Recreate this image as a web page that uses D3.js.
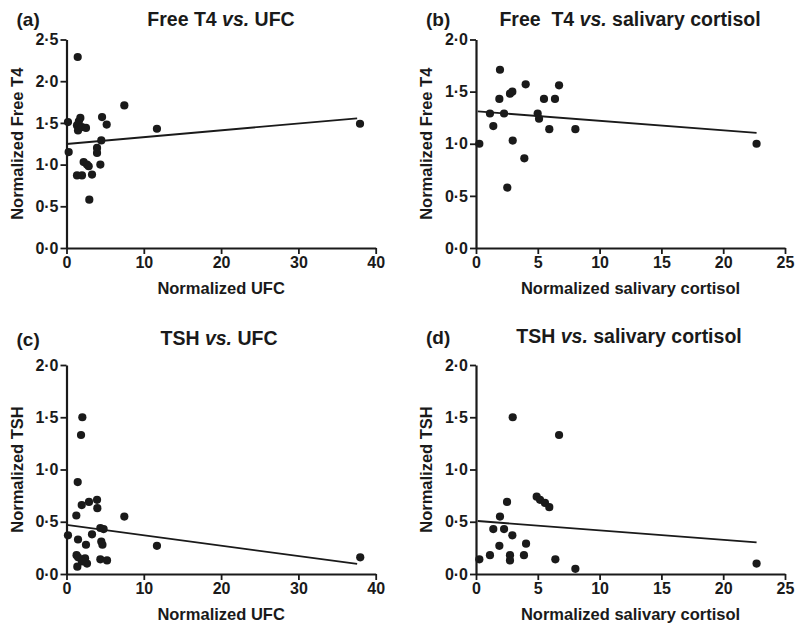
<!DOCTYPE html>
<html><head><meta charset="utf-8">
<script src="https://cdn.jsdelivr.net/npm/d3@7"></script>
<style>
body{margin:0;background:#fff;}
svg{display:block;font-family:"Liberation Sans",Arial,sans-serif;}
</style></head>
<body><svg id="c" width="796" height="629"></svg>
<script>
// Panel (a): Free T4 vs UFC
const aUFC = [0.19,0.28,1.45,1.36,1.49,1.79,1.6,2.0,2.52,4.6,5.2,7.48,11.7,37.97,4.5,3.95,3.95,4.38,2.22,2.65,2.87,1.36,2.0,3.3,2.95];
const aFT4 = [1.51,1.15,2.29,1.47,1.41,1.56,1.52,1.45,1.44,1.57,1.48,1.71,1.43,1.49,1.29,1.20,1.14,1.00,1.03,1.00,0.98,0.87,0.87,0.88,0.58];
const aFit = [[0.0,1.247],[37.6,1.555]];
// Panel (b): Free T4 vs salivary cortisol
const bSal = [0.27,1.94,4.02,6.72,2.75,2.94,1.89,5.50,6.39,1.13,2.27,4.99,5.10,1.40,5.93,8.04,2.97,3.91,2.53,22.7];
const bFT4 = [1.00,1.71,1.57,1.56,1.48,1.50,1.43,1.43,1.43,1.29,1.29,1.29,1.24,1.17,1.14,1.14,1.03,0.86,0.58,1.00];
const bFit = [[0.14,1.31],[22.7,1.105]];
// Panel (c): TSH vs UFC
const cUFC = [2.05,1.88,1.45,1.97,2.91,3.95,3.99,1.27,7.48,0.19,3.3,4.38,4.8,1.49,2.52,4.5,4.65,11.7,1.3,1.5,2.4,2.65,2.0,1.4,4.38,5.24,38.0];
const cTSH = [1.50,1.33,0.88,0.66,0.69,0.71,0.63,0.56,0.55,0.37,0.38,0.44,0.43,0.33,0.28,0.31,0.28,0.27,0.18,0.16,0.15,0.10,0.12,0.07,0.14,0.13,0.16];
const cFit = [[0.0,0.47],[37.6,0.096]];
// Panel (d): TSH vs salivary cortisol
const dSal = [2.97,6.72,4.91,5.18,5.58,5.93,2.51,1.94,1.40,2.27,2.94,4.05,1.89,0.27,1.13,2.75,2.75,3.88,6.42,8.04,22.7];
const dTSH = [1.50,1.33,0.74,0.71,0.68,0.64,0.69,0.55,0.43,0.43,0.37,0.29,0.27,0.14,0.18,0.18,0.13,0.18,0.14,0.05,0.10];
const dFit = [[0.14,0.507],[22.7,0.303]];

const xTicksUFC = [0,10,20,30,40];
const xTicksSal = [0,5,10,15,20,25];
const yTicks25 = [0,0.5,1.0,1.5,2.0,2.5];
const yTicks20 = [0,0.5,1.0,1.5,2.0];

const panels = [
  {tag:"(a)", t1:"Free T4 ", it:"vs.", t2:" UFC", xs:aUFC, ys:aFT4, fit:aFit, xMax:40, yMax:2.5, xt:xTicksUFC, yt:yTicks25,
   xl:"Normalized UFC", yl:"Normalized Free T4", L:66.5, R:375.7, T:39.5, B:248, tagY:26, titleY:26, titleX:221},
  {tag:"(b)", t1:"Free  T4 ", it:"vs.", t2:" salivary cortisol", xs:bSal, ys:bFT4, fit:bFit, xMax:25, yMax:2.0, xt:xTicksSal, yt:yTicks20,
   xl:"Normalized salivary cortisol", yl:"Normalized Free T4", L:476, R:785, T:39.5, B:248, tagY:26, titleY:26, titleX:630},
  {tag:"(c)", t1:"TSH ", it:"vs.", t2:" UFC", xs:cUFC, ys:cTSH, fit:cFit, xMax:40, yMax:2.0, xt:xTicksUFC, yt:yTicks20,
   xl:"Normalized UFC", yl:"Normalized TSH", L:66.5, R:375.7, T:365, B:574, tagY:346, titleY:345, titleX:219},
  {tag:"(d)", t1:"TSH ", it:"vs.", t2:" salivary cortisol", xs:dSal, ys:dTSH, fit:dFit, xMax:25, yMax:2.0, xt:xTicksSal, yt:yTicks20,
   xl:"Normalized salivary cortisol", yl:"Normalized TSH", L:476, R:785, T:365, B:574, tagY:344, titleY:343, titleX:629}
];

const svg = d3.select("#c");
const ink = "#1a1a1a";
const fmt = v => d3.format(".1f")(v).replace(".", "\u00B7");

panels.forEach(p => {
  const x = d3.scaleLinear().domain([0, p.xMax]).range([p.L, p.R]);
  const y = d3.scaleLinear().domain([0, p.yMax]).range([p.B, p.T]);
  const g = svg.append("g");

  g.append("text").attr("x", p.L - 50).attr("y", p.tagY)
    .attr("font-size", 19).attr("font-weight", "bold").attr("fill", ink).text(p.tag);
  const t = g.append("text").attr("x", p.titleX).attr("y", p.titleY).attr("text-anchor", "middle")
    .attr("font-size", 19.5).attr("font-weight", "bold").attr("fill", ink).attr("xml:space","preserve");
  t.append("tspan").text(p.t1);
  t.append("tspan").attr("font-style", "italic").text(p.it);
  t.append("tspan").text(p.t2);

  const xa = g.append("g").attr("transform", `translate(0,${p.B})`)
    .call(d3.axisBottom(x).tickValues(p.xt).tickFormat(d3.format("d")).tickSize(6).tickSizeOuter(0).tickPadding(3));
  const ya = g.append("g").attr("transform", `translate(${p.L},0)`)
    .call(d3.axisLeft(y).tickValues(p.yt).tickFormat(fmt).tickSize(6).tickSizeOuter(0).tickPadding(2));
  [xa, ya].forEach(a => {
    a.attr("font-family", "Liberation Sans, Arial, sans-serif").attr("font-size", 16).attr("font-weight", "bold");
    a.select(".domain").attr("stroke", ink).attr("stroke-width", 2.2);
    a.selectAll(".tick line").attr("stroke", ink).attr("stroke-width", 1.8);
    a.selectAll(".tick text").attr("fill", ink).attr("font-size", 16).attr("font-weight", "bold");
  });

  g.append("text").attr("x", (p.L + p.R) / 2).attr("y", p.B + 46).attr("text-anchor", "middle")
    .attr("font-size", 16.5).attr("font-weight", "bold").attr("fill", ink).text(p.xl);
  g.append("text").attr("transform", `translate(${p.L - 44},${(p.T + p.B) / 2}) rotate(-90)`)
    .attr("text-anchor", "middle").attr("font-size", 16.5).attr("font-weight", "bold").attr("fill", ink).text(p.yl);

  g.append("line").attr("x1", x(p.fit[0][0])).attr("y1", y(p.fit[0][1]))
    .attr("x2", x(p.fit[1][0])).attr("y2", y(p.fit[1][1]))
    .attr("stroke", ink).attr("stroke-width", 1.8);

  g.selectAll("circle").data(p.xs.map((v, i) => [v, p.ys[i]])).join("circle")
    .attr("cx", d => x(d[0])).attr("cy", d => y(d[1])).attr("r", 4.1).attr("fill", ink);
});
</script></body></html>
